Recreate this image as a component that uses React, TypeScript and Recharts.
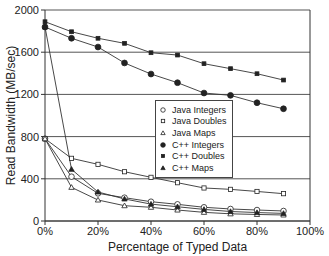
import { LineChart, Line, XAxis, YAxis, CartesianGrid, Legend, ReferenceLine, Label } from "recharts";

const percents = [0, 10, 20, 30, 40, 50, 60, 70, 80, 90];
const javaIntegers = [780, 420, 262, 221, 183, 158, 130, 114, 104, 95];
const javaDoubles = [780, 594, 537, 467, 414, 363, 313, 300, 280, 259];
const javaMaps = [780, 319, 199, 145, 130, 104, 82, 68, 62, 57];
const cppIntegers = [1839, 1732, 1649, 1498, 1393, 1311, 1213, 1191, 1121, 1064];
const cppDoubles = [1889, 1794, 1732, 1684, 1595, 1573, 1491, 1444, 1396, 1336];
const cppMaps = [1840, 490, 275, 209, 160, 135, 110, 90, 80, 72];

const xTicks = [0, 20, 40, 60, 80, 100];
const yTicks = [0, 400, 800, 1200, 1600, 2000];

const series = [
  { key: "javaInt", name: "Java Integers", values: javaIntegers, shape: "circle", filled: false },
  { key: "javaDbl", name: "Java Doubles", values: javaDoubles, shape: "square", filled: false },
  { key: "javaMap", name: "Java Maps", values: javaMaps, shape: "triangle", filled: false },
  { key: "cppInt", name: "C++ Integers", values: cppIntegers, shape: "circle", filled: true },
  { key: "cppDbl", name: "C++ Doubles", values: cppDoubles, shape: "square", filled: true },
  { key: "cppMap", name: "C++ Maps", values: cppMaps, shape: "triangle", filled: true },
];

const data = percents.map((p, i) => {
  const row: any = { pct: p };
  series.forEach((s) => (row[s.key] = s.values[i]));
  return row;
});

const ink = "#222";
const font = "'Liberation Sans', Arial, sans-serif";

function Marker({ cx, cy, shape, filled, scale = 1 }: any) {
  const fill = filled ? ink : "#fff";
  const sw = 0.8;
  if (shape === "circle") {
    const r = (filled ? 2.9 : 2.8) * scale;
    return <circle cx={cx} cy={cy} r={r} fill={fill} stroke={ink} strokeWidth={sw} />;
  }
  if (shape === "square") {
    const h = (filled ? 1.9 : 2.1) * scale;
    return <rect x={cx - h} y={cy - h} width={h * 2} height={h * 2} fill={fill} stroke={ink} strokeWidth={sw} />;
  }
  const s = 2.7 * scale;
  return (
    <polygon
      points={`${cx},${cy - s} ${cx - s},${cy + s * 0.75} ${cx + s},${cy + s * 0.75}`}
      fill={fill}
      stroke={ink}
      strokeWidth={sw}
    />
  );
}

function LegendBox() {
  return (
    <div
      style={{
        border: "1px solid #444",
        background: "#fff",
        padding: "3px 4px 3px 3px",
        fontFamily: font,
        fontSize: 9,
        color: ink,
        width: 69,
      }}
    >
      {series.map((s) => (
        <div key={s.key} style={{ display: "flex", alignItems: "center", height: 11.6 }}>
          <svg width={10} height={10} style={{ marginRight: 3 }}>
            <Marker cx={4} cy={5} shape={s.shape} filled={s.filled} scale={0.8} />
          </svg>
          <span>{s.name}</span>
        </div>
      ))}
    </div>
  );
}

export default function App() {
  return (
    <div style={{ position: "absolute", left: 0, top: 0, width: 329, height: 256, background: "#fff" }}>
      <LineChart width={329} height={256} data={data} margin={{ top: 10, right: 19, bottom: 15, left: 10 }}>
        <CartesianGrid vertical={false} stroke="#555" strokeWidth={1} />
        <XAxis
          dataKey="pct"
          type="number"
          domain={[0, 100]}
          ticks={xTicks}
          tickFormatter={(v) => `${v}%`}
          height={20}
          tickSize={4}
          stroke="#333"
          tick={{ fontSize: 11, fill: ink, fontFamily: font }}
        >
          <Label
            content={() => (
              <text x={177.5} y={251} textAnchor="middle" fontSize={12} fontFamily={font} fill={ink}>
                Percentage of Typed Data
              </text>
            )}
          />
        </XAxis>
        <YAxis
          type="number"
          domain={[0, 2000]}
          ticks={yTicks}
          width={35}
          tickSize={4}
          stroke="#333"
          tick={{ fontSize: 11, fill: ink, fontFamily: font }}
        >
          <Label
            content={() => (
              <text
                transform="translate(15,115.5) rotate(-90)"
                textAnchor="middle"
                fontSize={12}
                fontFamily={font}
                fill={ink}
              >
                Read Bandwidth (MB/sec)
              </text>
            )}
          />
        </YAxis>
        <ReferenceLine x={100} stroke="#333" />
        {series.map((s) => (
          <Line
            key={s.key}
            dataKey={s.key}
            name={s.name}
            stroke="#333"
            strokeWidth={0.9}
            isAnimationActive={false}
            dot={(p: any) => (
              <Marker key={`${s.key}-${p.index}`} cx={p.cx} cy={p.cy} shape={s.shape} filled={s.filled} />
            )}
            activeDot={false}
          />
        ))}
        <Legend
          layout="vertical"
          align="center"
          verticalAlign="middle"
          content={() => <LegendBox />}
          wrapperStyle={{ position: "absolute", left: 155, top: 100, width: 78 }}
        />
      </LineChart>
    </div>
  );
}
